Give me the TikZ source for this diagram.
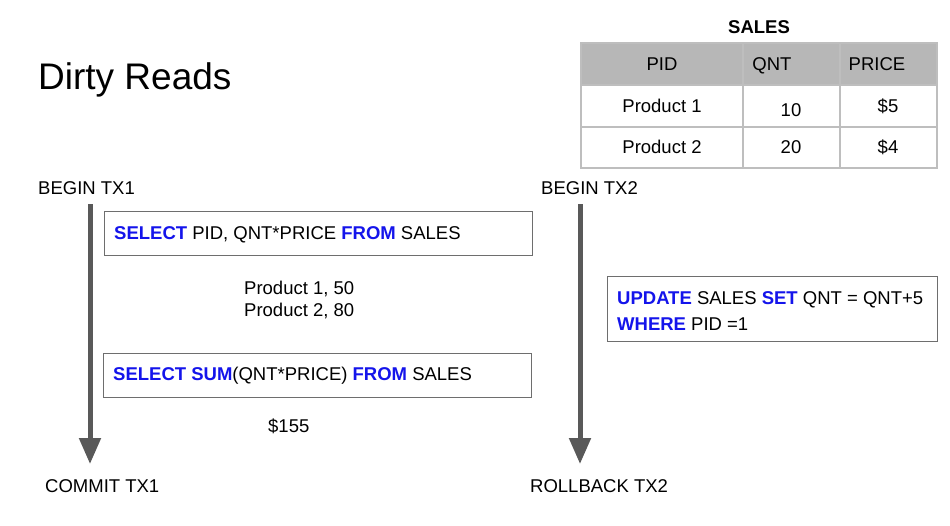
\documentclass[tikz,border=0pt]{standalone}
\usepackage{fontspec}
\setmainfont{Liberation Sans}
\usetikzlibrary{arrows.meta}
\definecolor{kw}{RGB}{20,20,235}
\definecolor{arrowgray}{RGB}{89,89,89}
\definecolor{boxgray}{RGB}{110,110,110}
\definecolor{tablegray}{RGB}{190,190,190}
\definecolor{headfill}{RGB}{183,183,183}
\newcommand{\kwd}[1]{\textcolor{kw}{\textbf{#1}}}
\tikzset{
  lbl/.style={font=\fontsize{18.5}{22}\selectfont, inner sep=0pt, anchor=west, text height=13.3pt, text depth=0pt},
  tcell/.style={font=\fontsize{18.5}{22}\selectfont, inner sep=0pt, text height=13.3pt, text depth=0pt},
  sqlbox/.style={draw=boxgray, line width=1pt, fill=white},
  timeline/.style={draw=arrowgray, line width=5pt, -{Triangle[length=26pt,width=21pt]}},
  cell/.style={draw=tablegray, line width=1.2pt},
}
\begin{document}
\begin{tikzpicture}[x=1pt,y=-1pt]
\useasboundingbox (0,0) rectangle (950,525);
% title
\node[anchor=base west, inner sep=0pt, font=\fontsize{37}{42}\selectfont] (title) at (38,89) {Dirty Reads};
% table
\node[tcell, font=\fontsize{18.5}{22}\selectfont\bfseries] (sales) at (759,27) {SALES};
\fill[headfill] (581,43) rectangle (937,85);
\draw[cell] (581,43) rectangle (937,168);
\draw[cell] (581,85) -- (937,85);
\draw[cell] (581,127) -- (937,127);
\draw[cell] (743,43) -- (743,168);
\draw[cell] (840,43) -- (840,168);
\node[tcell] (hpid) at (662,64) {PID};
\node[tcell] (hqnt) at (772,64) {QNT};
\node[tcell] (hprice) at (877,64) {PRICE};
\node[tcell] (p1) at (662,106) {Product 1};
\node[tcell] (q1) at (791,110) {10};
\node[tcell] (r1) at (888,106) {\$5};
\node[tcell] (p2) at (662,147) {Product 2};
\node[tcell] (q2) at (791,147) {20};
\node[tcell] (r2) at (888,147) {\$4};
% labels
\node[lbl] (b1) at (38,188) {BEGIN TX1};
\node[lbl] (b2) at (541,188) {BEGIN TX2};
\node[lbl] (c1) at (45,486) {COMMIT TX1};
\node[lbl] (c2) at (530,486) {ROLLBACK TX2};
% timelines
\coordinate (t1s) at (90,204);
\coordinate (t1e) at (90,464);
\coordinate (t2s) at (580,204);
\coordinate (t2e) at (580,464);
\draw[timeline] (t1s) -- (t1e);
\draw[timeline] (t2s) -- (t2e);
% boxes
\draw[sqlbox] (104,211) rectangle (532,255);
\node[lbl] (s1) at (114,233) {\kwd{SELECT} PID, QNT*PRICE \kwd{FROM} SALES};
\draw[sqlbox] (103,353) rectangle (531,397);
\node[lbl] (s2) at (113,374) {\kwd{SELECT} \kwd{SUM}(QNT*PRICE) \kwd{FROM} SALES};
\draw[sqlbox] (607,276) rectangle (937,341);
\node[lbl] (u1) at (617,298) {\kwd{UPDATE} SALES \kwd{SET} QNT = QNT+5};
\node[lbl] (u2) at (617,324) {\kwd{WHERE} PID =1};
% results
\node[lbl] (res1) at (244,288) {Product 1, 50};
\node[lbl] (res2) at (244,310) {Product 2, 80};
\node[lbl] (res3) at (268,426) {\$155};
\end{tikzpicture}
\end{document}
